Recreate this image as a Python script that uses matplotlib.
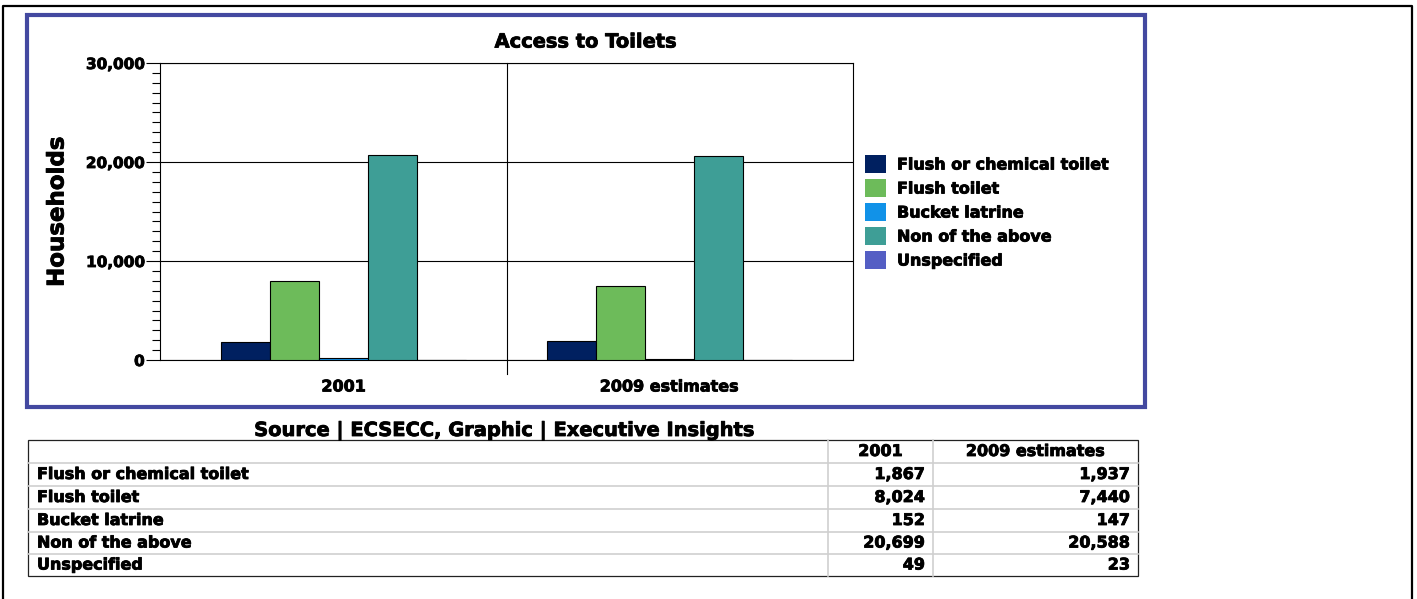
import matplotlib
matplotlib.use("Agg")
import matplotlib.pyplot as plt
import matplotlib.patheffects as pe
from matplotlib.patches import Rectangle
from matplotlib.lines import Line2D
from matplotlib.text import Text
from matplotlib.ticker import MultipleLocator, FuncFormatter

W, H = 1417, 599

years = ["2001", "2009 estimates"]
categories = ["Flush or chemical toilet", "Flush toilet", "Bucket latrine",
              "Non of the above", "Unspecified"]
values_2001 = [1867, 8024, 152, 20699, 49]
values_2009 = [1937, 7440, 147, 20588, 23]
colors = ["#002060", "#6dbb5a", "#1192e8", "#3e9e96", "#545ec4"]

plt.rcParams["font.family"] = "DejaVu Sans"
plt.rcParams["font.weight"] = "bold"


def fx(px):
    return px / W


def fy(py):
    return 1 - py / H


def line(xs, ys, **kw):
    fig.add_artist(Line2D([fx(x) for x in xs], [fy(y) for y in ys],
                          transform=fig.transFigure, **kw))


fig = plt.figure(figsize=(W / 100, H / 100), dpi=100)

# outer page border (open at the bottom)
line([3, 3, 1412, 1412], [599, 6, 6, 599], color="black", lw=1.6)

# blue frame around the chart
fig.add_artist(Rectangle((fx(27), fy(407)), fx(1145) - fx(27), fy(15) - fy(407),
                         transform=fig.transFigure, fill=False,
                         edgecolor="#4349a0", lw=3.0))

ax = fig.add_axes([fx(160), fy(360), fx(853) - fx(160), fy(63) - fy(360)])

group_pos = [0.03, 0.97]
bw = 0.1414
series = list(zip(values_2001, values_2009))
for i, (cat, col) in enumerate(zip(categories, colors)):
    xs = [g + (i - 2) * bw for g in group_pos]
    ax.bar(xs, series[i], width=bw, color=col, edgecolor="black", lw=0.8,
           zorder=3, label=cat)

ax.set_xlim(-0.5, 1.5)
ax.set_ylim(0, 30000)
ax.yaxis.set_major_locator(MultipleLocator(10000))
ax.yaxis.set_minor_locator(MultipleLocator(1000))
ax.yaxis.set_major_formatter(FuncFormatter(lambda v, p: f"{int(v):,}"))
ax.tick_params(axis="y", which="major", length=10, width=0.8, pad=1,
               labelsize=11)
ax.tick_params(axis="y", which="minor", length=6, width=0.8)
for lab in ax.get_yticklabels():
    lab.set_fontweight("bold")
ax.set_xticks(group_pos)
ax.set_xticklabels(years, fontsize=11.5, fontweight="bold")
ax.tick_params(axis="x", length=0, pad=14)
ax.grid(axis="y", which="major", color="black", lw=0.8, zorder=1)
for s in ax.spines.values():
    s.set_linewidth(0.8)
ax.axvline(0.5, ymin=-14 / 297, ymax=1, color="black", lw=0.8, clip_on=False,
           zorder=2)

fig.text(fx(586), fy(42), "Access to Toilets", ha="center", va="center",
         fontsize=14, fontweight="bold")
fig.text(fx(57), fy(212), "Households", rotation=90, ha="center", va="center",
         fontsize=16.5, fontweight="bold")

# legend swatches and labels
for i, (cat, col) in enumerate(zip(categories, colors)):
    top = 155 + i * 24
    fig.add_artist(Rectangle((fx(865), fy(top + 18)), fx(886) - fx(865),
                             fy(top) - fy(top + 18), transform=fig.transFigure,
                             facecolor=col, edgecolor="none"))
    fig.text(fx(897), fy(top + 10), cat, ha="left", va="center",
             fontsize=11.5, fontweight="bold")

# data table below the chart
fig.text(fx(505), fy(431), "Source | ECSECC, Graphic | Executive Insights",
         ha="center", va="center", fontsize=14, fontweight="bold")

tx0, tx1, tx2, tx3 = 28, 828, 933, 1138
row_y = [440, 463, 486, 509, 532, 554, 576]
grey = "#cfcfcf"
for y in row_y[1:-1]:
    line([tx0, tx3], [y, y], color=grey, lw=1.2)
for x in (tx1, tx2):
    line([x, x], [row_y[0], row_y[-1]], color=grey, lw=1.2)
fig.add_artist(Rectangle((fx(tx0), fy(row_y[-1])), fx(tx3) - fx(tx0),
                         fy(row_y[0]) - fy(row_y[-1]),
                         transform=fig.transFigure, fill=False,
                         edgecolor="#222222", lw=0.9))

hy = (row_y[0] + row_y[1]) / 2
fig.text(fx((tx1 + tx2) / 2), fy(hy), years[0], ha="center", va="center",
         fontsize=11.5, fontweight="bold")
fig.text(fx((tx2 + tx3) / 2), fy(hy), years[1], ha="center", va="center",
         fontsize=11.5, fontweight="bold")
for i, cat in enumerate(categories):
    cy = (row_y[i + 1] + row_y[i + 2]) / 2
    fig.text(fx(37), fy(cy), cat, ha="left", va="center", fontsize=11.5,
             fontweight="bold")
    fig.text(fx(tx2 - 8), fy(cy), f"{values_2001[i]:,}", ha="right",
             va="center", fontsize=11.5, fontweight="bold")
    fig.text(fx(tx3 - 8), fy(cy), f"{values_2009[i]:,}", ha="right",
             va="center", fontsize=11.5, fontweight="bold")

# heavier lettering
for t in fig.findobj(Text):
    t.set_path_effects([pe.withStroke(linewidth=0.6, foreground="black")])

fig.savefig("out.png", dpi=100)
